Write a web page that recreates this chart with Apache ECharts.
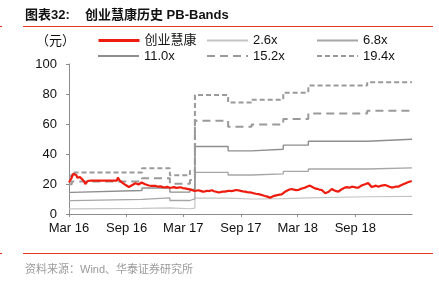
<!DOCTYPE html>
<html><head><meta charset="utf-8">
<script src="https://cdn.jsdelivr.net/npm/echarts@6/dist/echarts.min.js"></script>
<style>html,body{margin:0;padding:0;background:#fff}#c{width:439px;height:287px}</style>
</head><body><div id="c"></div>
<script>
// ---- data ----
const priceDates = [
'2016-03-01','2016-03-04','2016-03-08','2016-03-11','2016-03-15','2016-03-18','2016-03-21','2016-03-24','2016-03-28','2016-04-01',
'2016-04-05','2016-04-08','2016-04-12','2016-04-15','2016-04-19','2016-04-22','2016-04-26','2016-04-29','2016-05-03','2016-05-06',
'2016-05-20','2016-06-20','2016-07-20','2016-08-01','2016-08-04','2016-08-07','2016-08-11','2016-08-15','2016-08-19','2016-08-24',
'2016-08-29','2016-09-03','2016-09-08','2016-09-13','2016-09-18','2016-09-23','2016-09-29','2016-10-04','2016-10-09','2016-10-14',
'2016-10-19','2016-10-24','2016-10-30','2016-11-05','2016-11-11','2016-11-20','2016-11-26','2016-12-03','2016-12-11','2016-12-18',
'2016-12-25','2017-01-02','2017-01-09','2017-01-16','2017-01-23','2017-01-30','2017-02-06','2017-02-13','2017-02-20','2017-02-27',
'2017-03-06','2017-03-13','2017-03-22','2017-03-29','2017-04-07','2017-04-13','2017-04-18','2017-04-25','2017-05-02','2017-05-09',
'2017-05-16','2017-05-23','2017-05-31','2017-06-07','2017-06-14','2017-06-21','2017-06-28','2017-07-05','2017-07-12','2017-07-19',
'2017-07-26','2017-08-02','2017-08-09','2017-08-16','2017-08-24','2017-08-31','2017-09-07','2017-09-14','2017-09-21','2017-09-28',
'2017-10-05','2017-10-12','2017-10-19','2017-10-26','2017-11-02','2017-11-09','2017-11-17','2017-11-24','2017-11-29','2017-12-03',
'2017-12-08','2017-12-13','2017-12-19','2017-12-26','2018-01-02','2018-01-09','2018-01-14','2018-01-20','2018-01-27','2018-02-03',
'2018-02-10','2018-02-17','2018-02-24','2018-03-03','2018-03-10','2018-03-17','2018-03-25','2018-04-01','2018-04-09','2018-04-17',
'2018-04-25','2018-05-02','2018-05-09','2018-05-17','2018-05-22','2018-05-28','2018-06-02','2018-06-08','2018-06-13','2018-06-18',
'2018-06-25','2018-07-02','2018-07-09','2018-07-16','2018-07-23','2018-07-30','2018-08-06','2018-08-13','2018-08-21','2018-08-28',
'2018-09-04','2018-09-11','2018-09-18','2018-09-25','2018-10-02','2018-10-07','2018-10-12','2018-10-17','2018-10-23','2018-10-30',
'2018-11-06','2018-11-14','2018-11-21','2018-11-28','2018-12-05','2018-12-12','2018-12-19','2018-12-26','2019-01-02','2019-01-09',
'2019-01-16','2019-01-23','2019-01-30','2019-02-07','2019-02-14','2019-02-21','2019-02-28'
];
const priceValues = [
21.0,21.8,23.5,25.0,26.8,27.6,26.5,26.0,24.2,23.3,
24.6,24.0,23.2,22.7,21.5,19.9,20.4,21.8,22.5,22.2,
22.2,22.2,22.2,22.2,24.2,23.0,22.0,21.4,20.8,19.8,
19.3,18.3,18.0,18.8,19.2,19.8,20.5,20.0,19.7,20.4,
21.0,20.6,19.8,19.5,19.0,18.8,18.5,18.7,18.2,18.4,
17.9,17.8,18.1,17.5,17.6,17.9,17.4,17.6,17.8,17.3,
17.1,16.8,16.4,15.9,15.3,15.6,15.8,15.4,14.9,15.1,
15.5,15.3,15.8,15.2,14.8,14.4,14.6,15.0,14.9,15.2,
15.5,15.3,15.6,16.0,15.8,15.4,15.1,14.9,14.6,14.4,
14.2,13.8,13.5,13.3,12.9,12.5,12.0,11.6,11.3,10.9,
11.5,11.9,12.2,12.6,12.9,13.1,14.0,14.9,15.6,16.3,
16.7,16.2,15.9,16.0,16.6,17.2,17.6,18.3,18.9,18.0,
17.1,16.8,16.3,16.0,15.0,13.8,12.9,14.8,16.0,16.7,
15.8,15.2,14.9,16.0,16.9,17.6,17.9,17.5,18.2,18.0,
17.6,17.6,18.6,19.3,19.8,19.2,20.6,19.6,18.0,18.4,
18.9,18.2,18.8,19.1,19.3,18.8,18.2,17.6,17.9,18.3,
18.2,19.0,19.7,20.4,21.0,21.5,22.0
];
const bandDates = ['2016-03-01','2016-03-10','2016-10-20','2017-01-17','2017-03-22','2017-04-07','2017-07-22','2017-10-05','2018-01-14','2018-04-04','2018-10-09','2019-03-01'];
const band26  = [3.4, 3.7, 4.1, 3.5, 3.9, 10.6, 10.0, 10.2, 10.8, 11.5, 11.8, 11.8];
const band68  = [8.9, 9.7,10.7, 9.0,10.1, 27.8, 26.0, 26.7, 28.4, 30.0, 30.8, 30.8];
const band110 = [14.4,15.7,17.3,14.6,16.4, 45.0, 42.1, 43.2, 45.9, 48.5, 49.8, 49.8];
const band152 = [19.9,21.7,23.9,20.2,22.6, 62.2, 58.2, 59.7, 63.4, 67.0, 68.9, 68.9];
const band194 = [25.4,27.7,30.5,25.8,28.9, 79.3, 74.3, 76.2, 80.9, 85.6, 87.9, 87.9];
const seriesNames = ['创业慧康','2.6x','6.8x','11.0x','15.2x','19.4x'];
const xTickDates = ['2016-03-01','2016-09-01','2017-03-01','2017-09-01','2018-03-01','2018-09-01'];
const xTickLabels = ['Mar 16','Sep 16','Mar 17','Sep 17','Mar 18','Sep 18'];
const xRange = ['2016-03-01','2019-03-01'];

// ---- chart ----
const FONT = 'Liberation Sans, Arial, Noto Sans CJK SC, sans-serif';
const ts = s => { const p = s.split('-').map(Number); return Date.UTC(p[0], p[1] - 1, p[2]); };
const xTickTs = xTickDates.map(ts);
const zip = (d, v) => d.map((x, i) => [ts(x), v[i]]);
const chart = echarts.init(document.getElementById('c'), null, {renderer: 'canvas'});

function band(name, vals, color, width, type) {
  return {name, type: 'line', step: 'end', symbol: 'none', data: zip(bandDates, vals),
    lineStyle: {color, width, type}, itemStyle: {color}, z: 2};
}
const legendPos = [[97,34],[206,34],[316,34],[97,49.5],[206,49.5],[316,49.5]];
const legends = seriesNames.map((n, i) => {
  const l = {
    data: [n], left: legendPos[i][0], top: legendPos[i][1], padding: 0,
    itemWidth: 41, itemHeight: 12, selectedMode: false,
    itemStyle: {opacity: 0},
    textStyle: {fontSize: 13, color: '#111', fontFamily: FONT}
  };
  if (i === 0) l.lineStyle = {width: 3};
  return l;
});

chart.setOption({
  animation: false,
  backgroundColor: '#fff',
  grid: {left: 69, right: 27, top: 64, bottom: 73},
  legend: legends,
  xAxis: {
    type: 'value', min: ts(xRange[0]), max: ts(xRange[1]), scale: true,
    axisLine: {show: true, lineStyle: {color: '#8c8c8c', width: 1}},
    axisTick: {show: true, length: 3, customValues: xTickTs, lineStyle: {color: '#8c8c8c'}},
    axisLabel: {customValues: xTickTs, margin: 8, fontSize: 13, color: '#111', fontFamily: FONT,
      formatter: v => { for (let i = 0; i < xTickTs.length; i++) if (Math.abs(xTickTs[i] - v) < 86400000) return xTickLabels[i]; return ''; }},
    splitLine: {show: false}
  },
  yAxis: {
    type: 'value', min: 0, max: 100, interval: 20,
    axisLine: {show: true, lineStyle: {color: '#8c8c8c', width: 1}},
    axisTick: {show: true, length: 3, lineStyle: {color: '#8c8c8c'}},
    axisLabel: {margin: 12, fontSize: 13, color: '#111', fontFamily: FONT},
    splitLine: {show: false}
  },
  series: [
    band('2.6x', band26, '#c4c4c4', 1.2, 'solid'),
    band('6.8x', band68, '#a6a6a6', 1.3, 'solid'),
    band('11.0x', band110, '#8e8e8e', 1.4, 'solid'),
    band('15.2x', band152, '#9a9a9a', 2, [8, 5]),
    band('19.4x', band194, '#9a9a9a', 2, [5, 3]),
    {name: '创业慧康', type: 'line', symbol: 'none', data: zip(priceDates, priceValues),
     lineStyle: {color: '#ee1c0e', width: 2.2}, itemStyle: {color: '#ee1c0e'}, z: 3}
  ],
  graphic: [
    {type: 'text', left: 25, top: 9, style: {text: '图表32:', font: 'bold 13px ' + FONT, fill: '#111'}},
    {type: 'text', left: 85, top: 9, style: {text: '创业慧康历史 PB-Bands', font: 'bold 13px ' + FONT, fill: '#111'}},
    {type: 'line', shape: {x1: 23, y1: 26.5, x2: 433, y2: 26.5}, style: {stroke: '#e8381f', lineWidth: 1}},
    {type: 'line', shape: {x1: 0, y1: 26.5, x2: 2, y2: 26.5}, style: {stroke: '#e8381f', lineWidth: 1}},
    {type: 'text', left: 36, top: 35, style: {text: '（元）', font: '13px ' + FONT, fill: '#111'}},
    {type: 'line', shape: {x1: 23, y1: 253.5, x2: 433, y2: 253.5}, style: {stroke: '#e8381f', lineWidth: 1}},
    {type: 'line', shape: {x1: 0, y1: 253.5, x2: 2, y2: 253.5}, style: {stroke: '#e8381f', lineWidth: 1}},
    {type: 'text', left: 25, top: 264, style: {text: '资料来源：Wind、华泰证券研究所', font: '11px ' + FONT, fill: '#9a9a9a'}}
  ]
});
</script></body></html>
